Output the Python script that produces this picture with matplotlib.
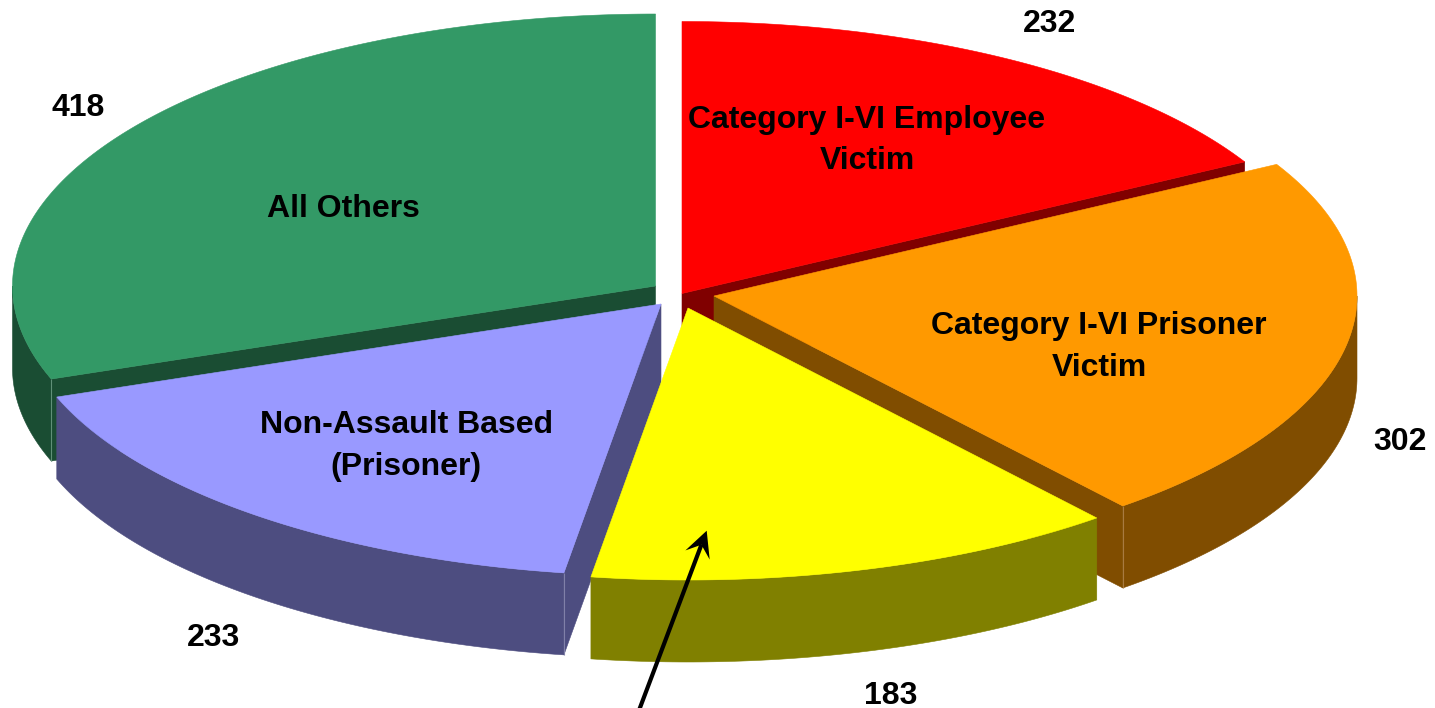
import numpy as np
import matplotlib
matplotlib.use("Agg")
import matplotlib.pyplot as plt
from matplotlib.patches import Polygon

# ---- data ----
categories = ["Category I-VI Employee\nVictim", "Category I-VI Prisoner\nVictim", "",
              "Non-Assault Based\n(Prisoner)", "All Others"]
values = [232, 302, 183, 233, 418]

# ---- style / layout (pixel space of the figure) ----
top_colors = ["#FF0000", "#FF9900", "#FFFF00", "#9999FF", "#339966"]
wall_colors = ["#800000", "#804D00", "#808000", "#4D4D80", "#1A4D33"]
edge_colors = ["#A04040", "#A87A40", "#A0A040", "#8080A8", "#609078"]
apexes = [(682, 293.5), (714, 296), (688, 308), (661, 304), (655.5, 286)]
draw_order = [4, 0, 1, 3, 2]
RX, RY, DEPTH = 643, 272, 82
name_pos = [(867, 140.5), (1099, 347), None, (406, 446), (343, 209)]
value_pos = [(1049, 32.5), (1400, 450.5), (891, 704), (213, 645.5), (78, 116.5)]
FS = 23
arrow_tip = np.array([706.7, 530.7])
arrow_tail = np.array([636.5, 717.0])
HEAD_LEN, HEAD_HALF, HEAD_NOTCH = 26, 13, 15

plt.rcParams["font.family"] = ["Liberation Sans", "DejaVu Sans"]
fig = plt.figure(figsize=(14.35, 7.08), dpi=100)
ax = fig.add_axes([0, 0, 1, 1])
ax.set_xlim(0, 1435)
ax.set_ylim(708, 0)
ax.axis("off")


def pt(apex, deg):
    t = np.radians(deg)
    return np.column_stack([apex[0] + RX * np.sin(t), apex[1] - RY * np.cos(t)])


def fill(xy, color, z):
    ax.add_patch(Polygon(xy, closed=True, facecolor=color, edgecolor=color,
                         linewidth=0.4, zorder=z))


edges = np.concatenate([[0], np.cumsum(values)]) / np.sum(values) * 360.0
down = np.array([0, DEPTH])

for rank, i in enumerate(draw_order):
    a, b = edges[i], edges[i + 1]
    apex = np.array(apexes[i], float)
    z = 2 + rank
    wall = wall_colors[i]
    # outer rim: only the part facing the viewer
    lo, hi = max(a, 90), min(b, 270)
    if hi > lo:
        arc = pt(apex, np.linspace(lo, hi, 80))
        fill(np.vstack([arc, (arc + down)[::-1]]), wall, z)
    # cut faces that face the viewer
    for deg, visible in ((b, np.sin(np.radians(b)) > 0), (a, np.sin(np.radians(a)) < 0)):
        if visible:
            p = pt(apex, np.array([deg]))[0]
            fill([apex, p, p + down, apex + down], wall, z)
            if 90 < deg < 270:
                ax.plot([p[0], p[0]], [p[1], p[1] + DEPTH], color=edge_colors[i],
                        lw=0.8, zorder=z, solid_capstyle="butt")
    # top face
    arc = pt(apex, np.linspace(a, b, 160))
    fill(np.vstack([apex, arc]), top_colors[i], z)

for name, pos in zip(categories, name_pos):
    if pos:
        ax.text(pos[0], pos[1], name, ha="center", va="center", fontsize=FS,
                fontweight="bold", color="black", linespacing=1.52, zorder=20)
for v, pos in zip(values, value_pos):
    ax.text(pos[0], pos[1], str(v), ha="center", va="baseline", fontsize=FS,
            fontweight="bold", color="black", zorder=20)

# annotation arrow with a notched head
u = (arrow_tail - arrow_tip) / np.linalg.norm(arrow_tail - arrow_tip)
n = np.array([-u[1], u[0]])
neck = arrow_tip + HEAD_NOTCH * u
ax.plot([arrow_tail[0], neck[0]], [arrow_tail[1], neck[1]], color="black", lw=3.0,
        solid_capstyle="butt", zorder=21)
ax.add_patch(Polygon([arrow_tip, arrow_tip + HEAD_LEN * u + HEAD_HALF * n, neck,
                      arrow_tip + HEAD_LEN * u - HEAD_HALF * n], closed=True,
                     facecolor="black", edgecolor="none", zorder=22))

fig.savefig("out.png", dpi=100, facecolor="white")
